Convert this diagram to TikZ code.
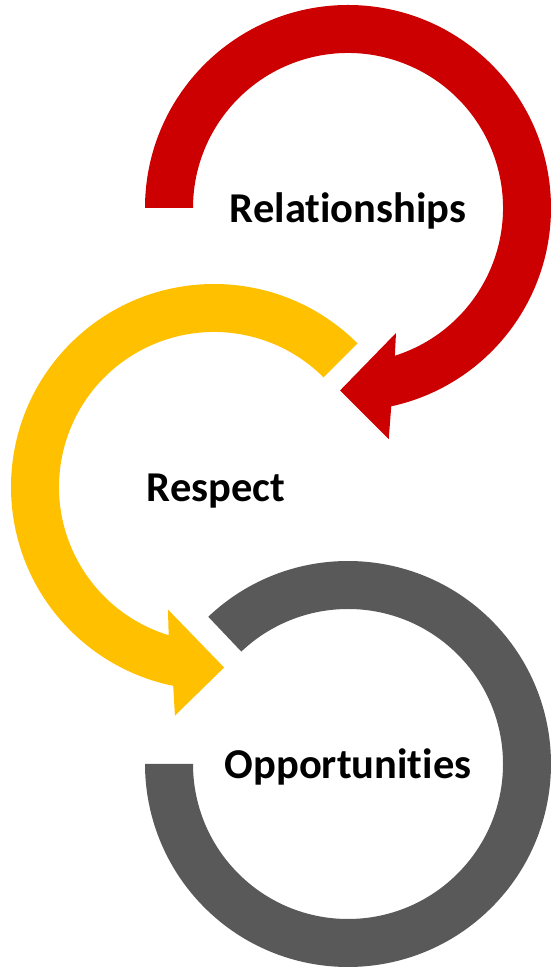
\documentclass[tikz,border=0pt]{standalone}
\usepackage{fontspec}
\setmainfont{Carlito}[Ligatures={NoCommon,NoContextual}]
\definecolor{relred}{HTML}{CC0000}
\definecolor{resyellow}{HTML}{FFC000}
\definecolor{oppgray}{HTML}{595959}
\begin{document}
\begin{tikzpicture}[x=1pt, y=1pt,
    ringtext/.style = {anchor=base, font=\fontsize{42.5}{50}\selectfont\bfseries}]
    \useasboundingbox (0,0) rectangle (551,967);

    \coordinate (rel) at (348,759);
    \coordinate (res) at (214,480);
    \coordinate (opp) at (348,203);

    \begin{scope}[shift={(rel)}]
        \fill[relred] (180:203) arc[start angle=180, end angle=-77.7, radius=203]
            -- (280:234.6) -- (267.5:182.7) -- (291:133.9) -- (-72.4:155)
            arc[start angle=-72.4, end angle=180, radius=155] -- cycle;
    \end{scope}

    \begin{scope}[shift={(res)}]
        \fill[resyellow] (45:203) arc[start angle=45, end angle=258.4, radius=203]
            -- (260.3:231.9) -- (273.2:180.8) -- (249.4:130.9) -- (253:155)
            arc[start angle=253, end angle=45, radius=155] -- cycle;
    \end{scope}

    \begin{scope}[shift={(opp)}]
        \fill[oppgray] (133.5:203) arc[start angle=133.5, end angle=-180, radius=203]
            -- (180:155) arc[start angle=-180, end angle=133.5, radius=155] -- cycle;
    \end{scope}

    \node[ringtext] (reltext) at ([yshift=-15]rel) {Relationships};
    \node[ringtext] (restext) at ([xshift=2, yshift=-15]res) {Respect};
    \node[ringtext] (opptext) at ([yshift=-15]opp) {Opportunities};
\end{tikzpicture}
\end{document}
